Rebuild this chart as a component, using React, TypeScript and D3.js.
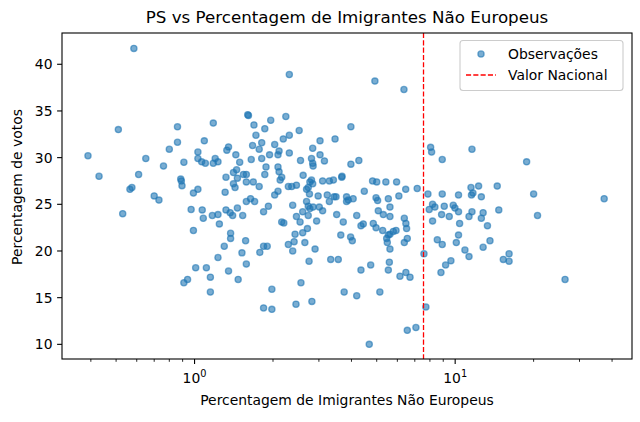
import React, { useEffect } from 'react'
import * as d3 from 'd3'

// Percentagem de imigrantes não europeus (eixo x, escala log)
const imigrantes = [
  0.585, 0.51, 0.39, 0.43, 0.86, 0.86, 0.80, 0.65, 0.61, 0.76,
  0.565, 0.575, 0.70, 0.73, 0.91, 0.885, 0.89, 0.895, 0.53, 1.61,
  1.60, 1.18, 1.69, 1.86, 1.96, 2.24, 2.52, 2.31, 2.19, 1.72,
  1.09, 1.35, 1.33, 1.67, 1.81, 2.03, 1.77, 2.11, 1.94, 2.09,
  2.31, 1.03, 1.03, 1.065, 1.10, 1.20, 1.23, 1.18, 1.44, 1.49,
  1.65, 1.81, 2.55, 1.88, 2.09, 2.11, 1.86, 1.45, 1.41, 1.54,
  1.58, 1.46, 1.32, 1.58, 1.68, 1.77, 1.41, 1.43, 1.31, 0.99,
  1.03, 2.16, 2.13, 2.29, 2.36, 2.46, 2.61, 2.09, 2.03, 1.64,
  1.58, 1.70, 1.92, 1.84, 2.38, 2.60, 2.46, 2.54, 2.16, 2.20,
  0.97, 1.07, 1.08, 1.17, 1.23, 1.32, 1.37, 1.40, 1.46, 1.53,
  1.245, 3.98, 3.46, 3.03, 2.84, 3.03, 3.15, 2.81, 2.84, 2.85,
  4.27, 3.98, 2.81, 2.77, 2.84, 2.73, 2.69, 3.10, 3.29, 3.41,
  3.67, 3.68, 4.82, 5.00, 5.42, 5.96, 7.15, 6.46, 4.48, 2.76,
  2.98, 3.23, 3.49, 3.43, 3.29, 3.83, 3.89, 3.83, 4.06, 4.97,
  5.04, 5.54, 6.08, 2.69, 2.73, 2.85, 2.77, 3.01, 3.10, 2.73,
  3.51, 4.19, 5.07, 5.62, 5.30, 5.62, 4.85, 6.38, 6.47, 2.94,
  3.72, 4.44, 2.31, 4.92, 6.36, 0.99, 1.375, 1.375, 1.57, 1.30,
  1.52, 1.23, 1.58, 1.01, 1.11, 1.35, 1.15, 1.47, 0.91, 0.94,
  1.15, 1.78, 1.84, 1.90, 2.43, 2.60, 2.29, 2.41, 2.65, 2.38,
  1.98, 1.84, 1.98, 2.45, 2.56, 2.71, 4.35, 4.97, 6.51, 5.27,
  5.54, 5.62, 5.46, 5.49, 5.93, 5.79, 6.38, 6.55, 5.62, 3.64,
  3.97, 4.03, 2.90, 2.75, 3.33, 3.56, 4.35, 4.74, 5.59, 5.54,
  6.14, 6.47, 6.71, 3.75, 4.19, 5.14, 2.82, 6.55, 7.07, 4.68,
  8.05, 8.12, 8.92, 11.6, 18.8, 7.86, 8.92, 10.3, 11.5, 12.3,
  11.55, 11.7, 12.6, 14.5, 20.0, 37.3, 8.19, 8.36, 7.95, 9.08,
  9.83, 9.98, 10.3, 8.87, 9.49, 8.19, 10.4, 11.6, 11.3, 12.8,
  12.6, 13.3, 14.7, 20.7, 8.54, 8.92, 10.3, 10.1, 10.9, 11.3,
  12.8, 13.6, 15.3, 16.1, 16.1, 7.59, 9.63, 9.19, 8.82, 26.4,
  7.72
]

// Percentagem de votos no PS (eixo y)
const votos = [
  41.7, 33.0, 30.2, 28.0, 33.3, 31.65, 30.9, 29.9, 28.2, 29.1,
  26.6, 26.8, 25.9, 25.45, 29.5, 27.7, 27.5, 27.0, 24.0, 34.5,
  34.6, 33.7, 33.5, 33.1, 34.0, 34.4, 32.9, 32.4, 32.0, 32.4,
  31.8, 31.15, 30.8, 31.3, 31.6, 31.4, 30.9, 30.7, 30.3, 30.3,
  30.5, 30.6, 29.9, 29.55, 29.4, 29.9, 29.55, 29.4, 30.3, 29.5,
  29.8, 29.9, 29.7, 29.0, 29.0, 28.5, 28.2, 28.7, 28.4, 28.2,
  28.2, 27.8, 27.9, 27.4, 27.4, 26.9, 27.2, 26.8, 26.3, 26.2,
  26.6, 27.9, 27.6, 26.9, 26.9, 27.05, 28.1, 26.4, 26.0, 25.6,
  25.3, 25.3, 24.8, 24.2, 24.9, 24.2, 23.7, 23.1, 23.1, 23.0,
  24.45, 24.4, 23.5, 23.8, 23.9, 24.4, 24.1, 23.8, 24.6, 23.8,
  22.9, 33.3, 32.0, 31.8, 31.0, 30.3, 29.65, 29.9, 29.4, 29.1,
  29.7, 29.3, 27.6, 27.4, 27.2, 26.8, 26.6, 27.5, 27.5, 27.6,
  27.9, 28.0, 27.5, 27.4, 27.4, 27.4, 26.7, 26.6, 26.4, 26.1,
  25.9, 26.0, 25.8, 25.8, 25.3, 25.8, 25.45, 25.3, 25.6, 25.7,
  25.4, 25.6, 25.9, 25.3, 24.8, 24.7, 24.55, 24.7, 24.3, 23.8,
  23.9, 23.8, 24.3, 24.7, 23.9, 23.7, 22.95, 23.5, 22.95, 23.2,
  23.1, 22.9, 38.9, 38.2, 37.3, 22.2, 21.9, 21.35, 21.1, 20.5,
  19.8, 19.3, 18.6, 18.2, 18.2, 17.85, 17.2, 16.95, 16.6, 16.95,
  15.6, 19.85, 20.5, 20.5, 21.8, 21.95, 20.7, 21.0, 20.9, 20.0,
  15.9, 13.9, 13.75, 14.3, 16.6, 22.4, 22.7, 22.5, 22.4, 22.2,
  21.7, 21.8, 21.35, 20.9, 22.2, 22.1, 20.9, 21.35, 20.2, 21.7,
  21.5, 21.1, 20.2, 18.9, 19.1, 19.1, 17.95, 18.5, 18.8, 17.95,
  17.3, 17.7, 17.2, 15.6, 15.2, 15.6, 14.6, 11.5, 11.8, 10.0,
  31.1, 30.6, 29.8, 30.9, 29.55, 26.1, 26.1, 26.0, 26.8, 26.95,
  26.0, 26.2, 25.8, 26.95, 26.1, 25.6, 25.0, 24.7, 24.45, 24.8,
  24.9, 24.6, 24.2, 23.9, 23.7, 23.2, 22.95, 24.2, 23.7, 24.1,
  23.5, 22.7, 24.4, 23.8, 21.2, 20.7, 21.7, 20.9, 20.1, 19.4,
  20.4, 21.1, 19.1, 19.7, 18.9, 19.7, 18.95, 18.5, 17.7, 16.95,
  14.0
]

const valorNacional = 7.56

const yTicks = [10, 15, 20, 25, 30, 35, 40]
const xMajorTicks = [1, 10]
const xMinorTicks = [0.4, 0.5, 0.6, 0.7, 0.8, 0.9, 2, 3, 4, 5, 6, 7, 8, 9, 20, 30, 40]

const width = 640
const height = 422
const margin = { top: 33, right: 8, bottom: 63, left: 62 }
const font = 'DejaVu Sans'
const blue = '#1f77b4'

export default function App() {
  useEffect(() => {
    document.body.style.margin = '0'
  }, [])

  const x = d3.scaleLog()
    .domain([0.31, 47.7])
    .range([margin.left, width - margin.right])
  const y = d3.scaleLinear()
    .domain([8.43, 43.35])
    .range([height - margin.bottom, margin.top])

  const points = imigrantes.map((v, i) => ({ x: v, y: votos[i] }))
  const bottom = height - margin.bottom
  const left = margin.left
  const cx = (margin.left + width - margin.right) / 2

  return (
    <svg width={width} height={height} style={{ display: 'block', background: '#fff' }} fontFamily={font}>
      {/* pontos */}
      <g>
        {points.map((p, i) => (
          <circle
            key={i}
            cx={x(p.x)}
            cy={y(p.y)}
            r={3.1}
            fill={blue}
            fillOpacity={0.6}
            stroke={blue}
            strokeOpacity={0.6}
            strokeWidth={1.3}
          />
        ))}
      </g>

      {/* valor nacional */}
      <line
        x1={x(valorNacional)}
        x2={x(valorNacional)}
        y1={margin.top}
        y2={bottom}
        stroke="red"
        strokeWidth={1.3}
        strokeDasharray="5.1 2.2"
      />

      {/* eixo y */}
      <g>
        {yTicks.map(t => (
          <g key={t}>
            <line x1={left - 4.9} x2={left} y1={y(t)} y2={y(t)} stroke="#000" strokeWidth={1.1} />
            <text x={left - 9.5} y={y(t)} dy="0.36em" textAnchor="end" fontSize={13.9} fill="#000">{t}</text>
          </g>
        ))}
      </g>

      {/* eixo x */}
      <g>
        {xMinorTicks.map(t => (
          <line key={t} x1={x(t)} x2={x(t)} y1={bottom} y2={bottom + 2.8} stroke="#000" strokeWidth={0.85} />
        ))}
        {xMajorTicks.map(t => (
          <g key={t}>
            <line x1={x(t)} x2={x(t)} y1={bottom} y2={bottom + 4.9} stroke="#000" strokeWidth={1.1} />
            <text x={x(t)} y={bottom + 24} textAnchor="middle" fontSize={13.9} fill="#000">
              10<tspan dy={-6} fontSize={9.8}>{Math.round(Math.log10(t))}</tspan>
            </text>
          </g>
        ))}
      </g>

      {/* moldura */}
      <rect
        x={margin.left}
        y={margin.top}
        width={width - margin.left - margin.right}
        height={bottom - margin.top}
        fill="none"
        stroke="#000"
        strokeWidth={1.1}
      />

      {/* legenda */}
      <g>
        <rect x={460} y={40.5} width={163} height={50} rx={3} fill="#fff" fillOpacity={0.8} stroke="#cccccc" strokeWidth={1.1} />
        <circle cx={481} cy={54} r={3.1} fill={blue} fillOpacity={0.6} stroke={blue} strokeOpacity={0.6} strokeWidth={1.3} />
        <text x={508} y={58.8} fontSize={13.9} fill="#000">Observações</text>
        <line x1={466} x2={496} y1={75} y2={75} stroke="red" strokeWidth={1.3} strokeDasharray="5.1 2.2" />
        <text x={508} y={80} fontSize={13.9} fill="#000">Valor Nacional</text>
      </g>

      {/* títulos */}
      <text x={cx} y={23} textAnchor="middle" fontSize={16.7} fill="#000">
        PS vs Percentagem de Imigrantes Não Europeus
      </text>
      <text x={cx} y={405} textAnchor="middle" fontSize={13.9} fill="#000">
        Percentagem de Imigrantes Não Europeus
      </text>
      <text transform={`translate(22,187) rotate(-90)`} textAnchor="middle" fontSize={13.9} fill="#000">
        Percentagem de votos
      </text>
    </svg>
  )
}
